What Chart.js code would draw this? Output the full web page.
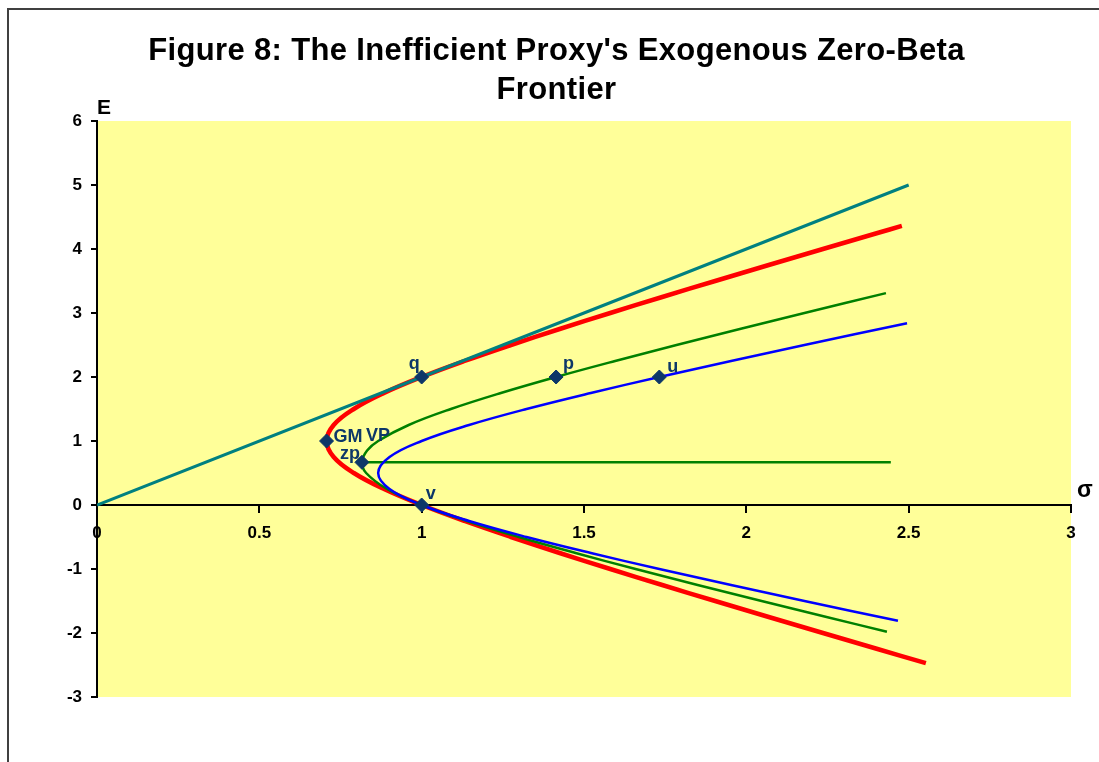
<!DOCTYPE html>
<html>
<head>
<meta charset="utf-8">
<script src="https://cdn.jsdelivr.net/npm/chart.js@4.4.0/dist/chart.umd.min.js"></script>
<style>
  html, body { margin: 0; padding: 0; background: #fff; overflow: hidden; }
  #wrap { position: relative; width: 1099px; height: 762px; font-family: "Liberation Sans", Arial, sans-serif; overflow: hidden; }
  #frame { position: absolute; left: 7px; top: 8px; width: 1300px; height: 900px; border-left: 2px solid #404040; border-top: 2px solid #404040; }
  #chart { position: absolute; left: 0; top: 0; }
  .title { position: absolute; left: 0; top: 30px; width: 1113px; text-align: center; font-weight: bold; font-size: 31px; letter-spacing: 0.35px; line-height: 39px; color: #000; }
  .axis-title { position: absolute; font-weight: bold; color: #000; line-height: 1; }
</style>
</head>
<body>
<div id="wrap">
  <div id="frame"></div>
  <canvas id="chart" width="1099" height="762"></canvas>
  <div class="title">Figure 8: The Inefficient Proxy's Exogenous Zero-Beta<br>Frontier</div>
  <div class="axis-title" style="left:97px; top:96px; font-size:21px;">E</div>
  <div class="axis-title" style="left:1077px; top:478px; font-size:23px;">σ</div>
</div>
<script>
// axis ticks
const sigmaTicks = [0, 0.5, 1, 1.5, 2, 2.5, 3];
const eTicks = [-3, -2, -1, 0, 1, 2, 3, 4, 5, 6];

// tangent line from the origin through q
const tangentSigma = [0, 2.5];
const tangentE = [0, 5];

// red: minimum-variance frontier (sigma, E)
const redSigma = [2.553, 2.404, 2.236, 2.069, 1.904, 1.741, 1.581, 1.425, 1.275, 1.132, 1.0, 0.884, 0.791, 0.729, 0.707, 0.729, 0.791, 0.884, 1.0, 1.132, 1.275, 1.425, 1.581, 1.741, 1.904, 2.069, 2.236, 2.404, 2.479];
const redE = [-2.47, -2.25, -2.0, -1.75, -1.5, -1.25, -1.0, -0.75, -0.5, -0.25, 0, 0.25, 0.5, 0.75, 1.0, 1.25, 1.5, 1.75, 2.0, 2.25, 2.5, 2.75, 3.0, 3.25, 3.5, 3.75, 4.0, 4.25, 4.36];

// green: zero-beta frontier of the proxy
const greenSigma = [2.433, 2.247, 2.047, 1.850, 1.659, 1.474, 1.299, 1.139, 1.0, 0.893, 0.829, 0.816, 0.832, 0.866, 0.960, 1.090, 1.244, 1.414, 1.596, 1.785, 1.980, 2.179, 2.430];
const greenE = [-1.98, -1.75, -1.5, -1.25, -1.0, -0.75, -0.5, -0.25, 0, 0.25, 0.5, 0.667, 0.85, 1.0, 1.25, 1.5, 1.75, 2.0, 2.25, 2.5, 2.75, 3.0, 3.31];

// green horizontal line at the zero-beta return
const zeroBetaSigma = [0.816, 2.445];
const zeroBetaE = [0.667, 0.667];

// blue frontier
const blueSigma = [2.467, 2.179, 1.953, 1.732, 1.521, 1.323, 1.146, 1.0, 0.901, 0.866, 0.901, 1.0, 1.146, 1.323, 1.521, 1.732, 1.953, 2.179, 2.495];
const blueE = [-1.81, -1.5, -1.25, -1.0, -0.75, -0.5, -0.25, 0, 0.25, 0.5, 0.75, 1.0, 1.25, 1.5, 1.75, 2.0, 2.25, 2.5, 2.84];

// marked portfolios
const pointNames = ['q', 'p', 'u', 'GM', 'zp', 'v'];
const pointSigma = [1.0, 1.414, 1.732, 0.707, 0.816, 1.0];
const pointE = [2.0, 2.0, 2.0, 1.0, 0.667, 0.0];

function toXY(xs, ys) {
    return xs.map((x, i) => ({ x: x, y: ys[i] }));
}

const NAVY = '#0d3768';
const FONT = '"Liberation Sans", Arial, sans-serif';

// where each label sits relative to its marker
const labelStyle = [
    { text: 'q', at: 0, dx: -13, dy: -8, align: 'left' },
    { text: 'p', at: 1, dx: 7, dy: -8, align: 'left' },
    { text: 'u', at: 2, dx: 8, dy: -5, align: 'left' },
    { text: 'GM', at: 3, dx: 7, dy: 1, align: 'left' },
    { text: 'VP', at: 4, dx: 4, dy: -21, align: 'left' },
    { text: 'zp', at: 4, dx: -2, dy: -3, align: 'right' },
    { text: 'v', at: 5, dx: 4, dy: -6, align: 'left' }
];

const plotBackground = {
    id: 'plotBackground',
    beforeDraw(chart) {
        const a = chart.chartArea;
        const ctx = chart.ctx;
        ctx.save();
        ctx.fillStyle = '#ffff99';
        ctx.fillRect(a.left, a.top, a.right - a.left, a.bottom - a.top);
        ctx.restore();
    }
};

const pointLabels = {
    id: 'pointLabels',
    afterDatasetsDraw(chart) {
        const ctx = chart.ctx;
        const xs = chart.scales.x, ys = chart.scales.y;
        ctx.save();
        ctx.font = 'bold 18px ' + FONT;
        ctx.fillStyle = NAVY;
        ctx.textBaseline = 'alphabetic';
        labelStyle.forEach(l => {
            const px = xs.getPixelForValue(pointSigma[l.at]);
            const py = ys.getPixelForValue(pointE[l.at]);
            ctx.textAlign = l.align;
            ctx.fillText(l.text, px + l.dx, py + l.dy);
        });
        ctx.restore();
    }
};

function lineSet(xs, ys, color, width, order) {
    return {
        data: toXY(xs, ys),
        showLine: true,
        borderColor: color,
        borderWidth: width,
        pointRadius: 0,
        tension: 0.4,
        fill: false,
        order: order
    };
}

const tickFont = { family: FONT, size: 17, weight: 'bold' };

new Chart(document.getElementById('chart'), {
    type: 'scatter',
    data: {
        datasets: [
            {
                data: toXY(pointSigma, pointE),
                pointStyle: 'rectRot',
                pointRadius: 7,
                backgroundColor: NAVY,
                borderColor: NAVY,
                borderWidth: 1,
                order: 0
            },
            lineSet(tangentSigma, tangentE, '#008080', 3, 1),
            lineSet(blueSigma, blueE, '#0000ff', 2.5, 2),
            lineSet(greenSigma, greenE, '#008000', 2.5, 3),
            lineSet(zeroBetaSigma, zeroBetaE, '#008000', 2.5, 3),
            lineSet(redSigma, redE, '#ff0000', 4.5, 4)
        ]
    },
    options: {
        responsive: false,
        animation: false,
        layout: { padding: { top: 121, right: 28, bottom: 65, left: 0 } },
        plugins: { legend: { display: false }, tooltip: { enabled: false } },
        scales: {
            x: {
                type: 'linear',
                min: 0,
                max: 3,
                position: { y: 0 },
                afterBuildTicks: s => { s.ticks = sigmaTicks.map(v => ({ value: v })); },
                afterFit: s => { s.height = 0; },
                ticks: {
                    color: '#000',
                    font: tickFont,
                    padding: 11,
                    maxRotation: 0,
                    autoSkip: false,
                    callback: v => String(v)
                },
                grid: { drawOnChartArea: false, drawTicks: true, tickLength: 7, color: '#000', lineWidth: 2 },
                border: { display: true, color: '#000', width: 2 }
            },
            y: {
                type: 'linear',
                min: -3,
                max: 6,
                position: 'left',
                afterBuildTicks: s => { s.ticks = eTicks.map(v => ({ value: v })); },
                afterFit: s => { s.width = 97; },
                ticks: {
                    color: '#000',
                    font: tickFont,
                    padding: 9,
                    autoSkip: false,
                    callback: v => String(v)
                },
                grid: { drawOnChartArea: false, drawTicks: true, tickLength: 6, color: '#000', lineWidth: 2 },
                border: { display: true, color: '#000', width: 2 }
            }
        }
    },
    plugins: [plotBackground, pointLabels]
});
</script>
</body>
</html>
